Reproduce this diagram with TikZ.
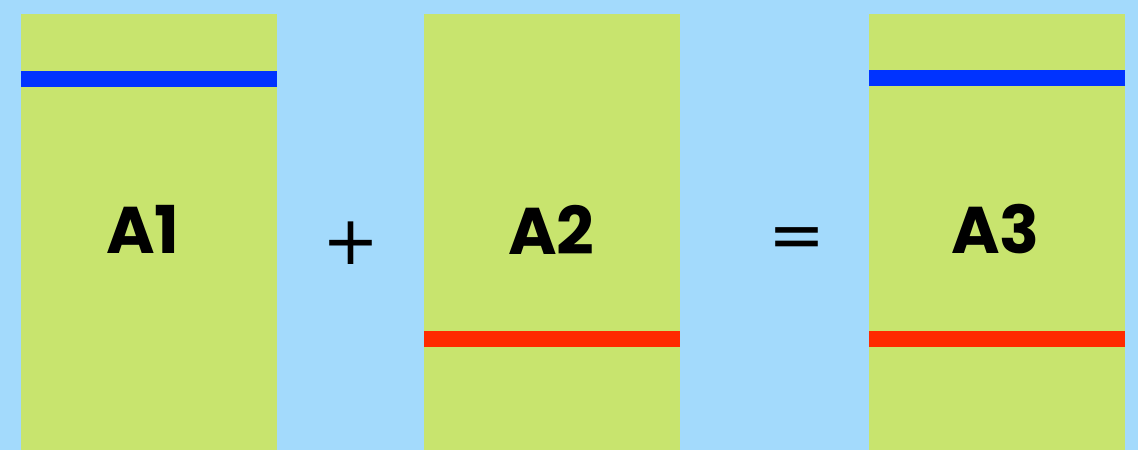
\documentclass[tikz,border=0pt]{standalone}
\usepackage{fontspec}
\setmainfont{Poppins}
\newfontfamily\signfont{DejaVu Sans}
\usepackage{xcolor}
\usepackage{tikz}
\usetikzlibrary{positioning}

\definecolor{skyblue}{HTML}{A3DAFC}
\definecolor{panelgreen}{HTML}{C8E46E}
\definecolor{barblue}{HTML}{0033FF}
\definecolor{barred}{HTML}{FF2A00}

\begin{document}
\begin{tikzpicture}[x=1pt, y=1pt,
  panel/.style={fill=panelgreen, inner sep=0pt, minimum width=256pt,
                minimum height=436pt},
  tag/.style={inner sep=0pt, font=\fontsize{66}{66}\selectfont\bfseries},
  opsign/.style={inner sep=0pt, font=\signfont\fontsize{68}{68}\selectfont},
  bar/.style={fill=#1}]
\fill[skyblue] (0,0) rectangle (1138,450);
\useasboundingbox (0,0) rectangle (1138,450);
\node[panel] (p1) at (149,218) {};
\node[panel] (p2) at (552,218) {};
\node[panel] (p3) at (997,218) {};
\node[tag] (t1) at (143,220.5) {A1};
\node[tag] (t2) at (551.5,220.5) {A2};
\node[tag] (t3) at (995.5,220.5) {A3};
\node[opsign] (plus) at (351,206.5) {+};
\node[opsign] (equals) at (797,206.5) {=};
% coloured bars across the panels
\fill[bar=barblue] ([yshift=-57pt]p1.north west) rectangle ([yshift=-73pt]p1.north east);
\fill[bar=barred] ([yshift=-317pt]p2.north west) rectangle ([yshift=-333pt]p2.north east);
\fill[bar=barblue] ([yshift=-56pt]p3.north west) rectangle ([yshift=-72pt]p3.north east);
\fill[bar=barred] ([yshift=-317pt]p3.north west) rectangle ([yshift=-333pt]p3.north east);
\end{tikzpicture}
\end{document}
